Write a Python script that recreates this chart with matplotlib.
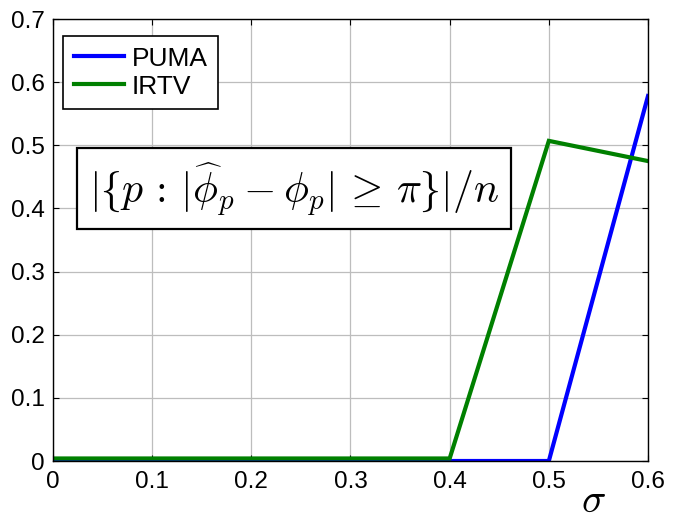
import matplotlib
matplotlib.use("Agg")
import matplotlib.pyplot as plt

sigma = [0.0, 0.1, 0.2, 0.3, 0.4, 0.5, 0.6]
puma = [0.0, 0.0, 0.0, 0.0, 0.0, 0.0, 0.578]
irtv = [0.004, 0.004, 0.004, 0.004, 0.004, 0.507, 0.475]
xticks = [0, 0.1, 0.2, 0.3, 0.4, 0.5, 0.6]
xticklabels = ["0", "0.1", "0.2", "0.3", "0.4", "0.5", "0.6"]
yticks = [0, 0.1, 0.2, 0.3, 0.4, 0.5, 0.6, 0.7]
yticklabels = ["0", "0.1", "0.2", "0.3", "0.4", "0.5", "0.6", "0.7"]

plt.rcParams["font.family"] = ["Liberation Sans", "DejaVu Sans"]
plt.rcParams["mathtext.fontset"] = "cm"

fig = plt.figure(figsize=(6.73, 5.22), dpi=100)
ax = fig.add_axes([53 / 673, 1 - 461 / 522, 595 / 673, 442 / 522])

ax.plot(sigma, puma, color="#0000ff", lw=3, label="PUMA", solid_joinstyle="miter")
ax.plot(sigma, irtv, color="#008000", lw=3, label="IRTV", solid_joinstyle="miter")

ax.set_xlim(0, 0.6)
ax.set_ylim(0, 0.7)
ax.set_xticks(xticks)
ax.set_xticklabels(xticklabels)
ax.set_yticks(yticks)
ax.set_yticklabels(yticklabels)
ax.tick_params(direction="in", length=4, width=0.8, labelsize=17.5, top=True, right=True,
               labeltop=False, labelright=False)
ax.tick_params(axis="x", pad=7)
ax.tick_params(axis="y", pad=6)
ax.grid(True, color="#bdbdbd", lw=0.9)
ax.set_axisbelow(True)
for s in ax.spines.values():
    s.set_linewidth(1.0)

leg = ax.legend(loc="upper left", bbox_to_anchor=(10 / 595, 1 - 17 / 442), fontsize=19,
                fancybox=False, edgecolor="black", framealpha=1, handlelength=1.9,
                handletextpad=0.3, borderpad=0.4, labelspacing=0.15, borderaxespad=0)
leg.get_frame().set_linewidth(1.2)

ax.text(0.243, 0.431, r"$|\lbrace p\,:\,|\widehat{\phi}_p-\phi_p|\,\geq\,\pi\rbrace|/n$",
        fontsize=30, ha="center", va="center",
        bbox=dict(boxstyle="square,pad=0.28", facecolor="white", edgecolor="black", lw=1.6))

fig.text(593 / 673, 1 - 512 / 522, r"$\sigma$", fontsize=29, ha="center", va="baseline")

fig.savefig("out.png", dpi=100)
